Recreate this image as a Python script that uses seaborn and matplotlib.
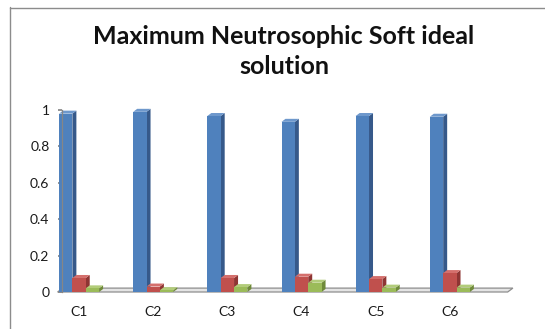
import numpy as np
import pandas as pd
import matplotlib
matplotlib.use("Agg")
import matplotlib.pyplot as plt
from matplotlib.patches import Polygon
from matplotlib.lines import Line2D
import seaborn as sns

# Maximum neutrosophic soft ideal solution per criterion
criteria = ["C1", "C2", "C3", "C4", "C5", "C6"]
truth = [0.98, 0.99, 0.967, 0.935, 0.967, 0.963]
indeterminacy = [0.077, 0.03, 0.077, 0.084, 0.071, 0.104]
falsity = [0.02, 0.01, 0.027, 0.051, 0.024, 0.024]
series_names = ["T", "I", "F"]
y_ticks = [0, 0.2, 0.4, 0.6, 0.8, 1]
y_tick_labels = ["0", "0.2", "0.4", "0.6", "0.8", "1"]

front_colors = ["#4F81BD", "#C0504D", "#9BBB59"]
side_colors = ["#36598A", "#8E3533", "#6F8A3A"]
top_colors = ["#6E98CC", "#D46F6C", "#B2CC7A"]

df = pd.DataFrame({
    "criterion": criteria * 3,
    "value": truth + indeterminacy + falsity,
    "series": [s for s in series_names for _ in criteria],
})

sns.set_theme(style="white")
plt.rcParams["font.family"] = ["Lato", "DejaVu Sans"]

W, H = 545, 329
fig = plt.figure(figsize=(W / 100, H / 100), dpi=100)
ax_left, ax_right, ax_bottom, ax_top = 62, 524, 292, 110
ax = fig.add_axes([ax_left / W, 1 - ax_bottom / H,
                   (ax_right - ax_left) / W, (ax_bottom - ax_top) / H])

sns.barplot(data=df, x="criterion", y="value", hue="series",
            palette=front_colors, saturation=1, width=0.54,
            legend=False, ax=ax, errorbar=None)

xlim = (-0.23, 6.0)
ax.set_xlim(*xlim)
ax.set_ylim(0, 1)

# pixel depth of the pseudo-3D faces, converted to data units
depth_px_x, depth_px_y = 4.0, 3.0
dx = depth_px_x * (xlim[1] - xlim[0]) / (ax_right - ax_left)
dy = depth_px_y * 1.0 / (ax_bottom - ax_top)

# floor strip
fd = 1.3
floor = Polygon([(xlim[0] - 0.06, 0), (5.78, 0), (5.78 + fd * dx, fd * dy),
                 (xlim[0] - 0.06 + fd * dx, fd * dy)], closed=True,
                facecolor="#E4E4E4", edgecolor="#8E8E8E", lw=0.9,
                clip_on=False, zorder=0.5)
ax.add_patch(floor)

for k, container in enumerate(ax.containers):
    for bar in container:
        x0 = bar.get_x()
        w = bar.get_width()
        h = bar.get_height()
        x1 = x0 + w
        bar.set_zorder(2 + k)
        bar.set_edgecolor("none")
        bar.set_clip_on(False)
        side = Polygon([(x1, 0), (x1 + dx, dy), (x1 + dx, h + dy), (x1, h)],
                       closed=True, facecolor=side_colors[k], edgecolor="none",
                       zorder=1.5 + k, clip_on=False)
        top = Polygon([(x0, h), (x0 + dx, h + dy), (x1 + dx, h + dy), (x1, h)],
                      closed=True, facecolor=top_colors[k], edgecolor="none",
                      zorder=1.5 + k, clip_on=False)
        ax.add_patch(side)
        ax.add_patch(top)

ax.set_yticks(y_ticks)
ax.set_yticklabels(y_tick_labels)
ax.set_xlabel("")
ax.set_ylabel("")
ax.tick_params(axis="y", labelsize=10, length=3, color="#868686",
               direction="out", pad=6, left=True)
ax.tick_params(axis="x", labelsize=10, length=0, pad=10)
for lab in ax.get_yticklabels() + ax.get_xticklabels():
    lab.set_color("#1a1a1a")

for s in ["top", "right", "bottom"]:
    ax.spines[s].set_visible(False)
ax.spines["left"].set_color("#868686")
ax.spines["left"].set_linewidth(0.9)

fig.text(284 / W, 1 - 36 / H, "Maximum Neutrosophic Soft ideal",
         ha="center", va="center", fontsize=18, fontweight="bold", color="#111111")
fig.text(284 / W, 1 - 66 / H, "solution",
         ha="center", va="center", fontsize=18, fontweight="bold", color="#111111")

# chart frame
fig.add_artist(Line2D([9.5 / W, 9.5 / W], [1 - 7 / H, 0], color="#8C8C8C",
                      lw=1.0, transform=fig.transFigure))
fig.add_artist(Line2D([9.5 / W, 1], [1 - 7.5 / H, 1 - 7.5 / H], color="#8C8C8C",
                      lw=1.0, transform=fig.transFigure))

fig.savefig("out.png", dpi=100)
